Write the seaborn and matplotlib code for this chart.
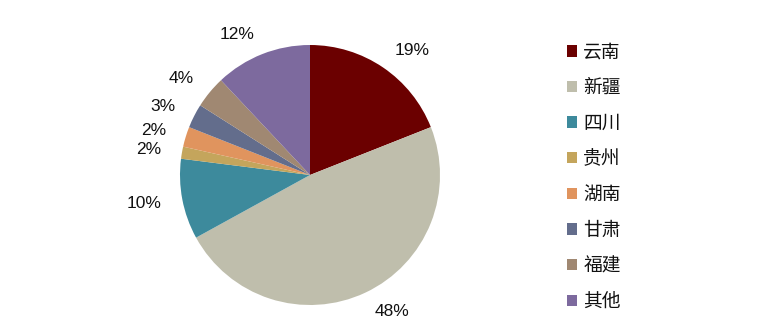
import matplotlib
matplotlib.use("Agg")
import matplotlib.pyplot as plt
import seaborn as sns
from matplotlib.patches import Patch

sns.set_theme(style="white")
plt.rcParams['font.family'] = ['Liberation Sans', 'Noto Sans CJK SC', 'DejaVu Sans']

categories = ["云南", "新疆", "四川", "贵州", "湖南", "甘肃", "福建", "其他"]
values = [19, 48, 10, 1.5, 2.5, 3, 4, 12]
labels = ["19%", "48%", "10%", "2%", "2%", "3%", "4%", "12%"]
colors = ["#6B0000", "#BFBEAC", "#3D8A9C", "#C4A55C", "#E0945E", "#636D8C", "#A08872", "#7D6A9E"]

fig = plt.figure(figsize=(7.78, 3.26), dpi=100)
ax = fig.add_axes([180/778, 21/326, 260/778, 260/326])
wedges, texts = ax.pie(values, labels=labels, colors=colors, startangle=90, counterclock=False,
                       labeldistance=1.16, wedgeprops=dict(linewidth=0),
                       textprops=dict(fontsize=12.5, color="#111111"))
ax.set_xlim(-1, 1)
ax.set_ylim(-1, 1)
ax.set_aspect('equal')
for t in texts:
    t.set_clip_on(False)

handles = [Patch(facecolor=c, edgecolor='none') for c in colors]
leg = fig.legend(handles, categories, loc='upper left', bbox_to_anchor=(559/778, 1 - 34/326),
                 frameon=False, fontsize=13.5, handlelength=0.55, handleheight=0.55,
                 handletextpad=0.35, labelspacing=0.78, borderaxespad=0)
for t in leg.get_texts():
    t.set_fontfamily(['Noto Sans CJK SC', 'DejaVu Sans'])
    t.set_color("#111111")
fig.savefig("out.png", dpi=100)
